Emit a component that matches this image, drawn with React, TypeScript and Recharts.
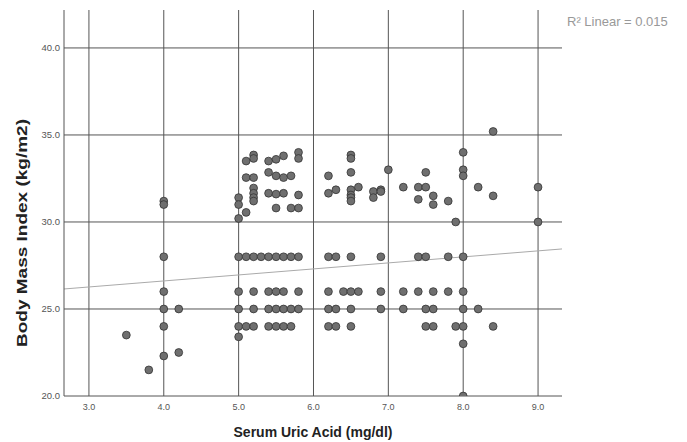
import React from 'react';
import { ScatterChart, Scatter, XAxis, YAxis, ReferenceLine } from 'recharts';

// Serum uric acid values for the BMI bands that form horizontal rows
const row28 = [4.0, 5.0, 5.1, 5.2, 5.3, 5.4, 5.5, 5.6, 5.7, 5.8, 6.2, 6.3, 6.5, 6.9, 7.4, 7.5, 7.8, 8.0];
const row26 = [4.0, 5.0, 5.2, 5.4, 5.5, 5.6, 5.8, 6.2, 6.4, 6.5, 6.6, 6.9, 7.2, 7.4, 7.6, 7.8, 8.0];
const row25 = [4.0, 4.2, 5.0, 5.2, 5.4, 5.5, 5.6, 5.7, 5.8, 6.2, 6.3, 6.5, 6.9, 7.2, 7.5, 7.6, 8.0, 8.2];
const row24 = [4.0, 5.0, 5.1, 5.2, 5.4, 5.5, 5.6, 5.7, 6.2, 6.3, 6.5, 7.5, 7.6, 7.9, 8.0, 8.4];

// Remaining individual observations: [uric acid, BMI]
const lowPoints: [number, number][] = [
  [3.5, 23.5], [3.8, 21.5], [4.0, 22.3], [4.2, 22.5], [5.0, 23.4], [8.0, 23.0], [8.0, 20.0],
];
const highPoints: [number, number][] = [
  [4.0, 31.2], [4.0, 31.0],
  [5.0, 31.4], [5.0, 31.0], [5.0, 30.2],
  [5.1, 33.5], [5.1, 32.55], [5.1, 30.55],
  [5.2, 33.85], [5.2, 33.65], [5.2, 32.55], [5.2, 31.95], [5.2, 31.65], [5.2, 31.4], [5.2, 31.2],
  [5.4, 33.5], [5.4, 32.85], [5.4, 31.65],
  [5.5, 33.6], [5.5, 32.65], [5.5, 31.6], [5.5, 30.8],
  [5.6, 33.8], [5.6, 32.55], [5.6, 31.65],
  [5.7, 32.65], [5.7, 30.8],
  [5.8, 34.0], [5.8, 33.65], [5.8, 31.55], [5.8, 30.8],
  [6.2, 32.65], [6.2, 31.65],
  [6.3, 31.85],
  [6.5, 33.85], [6.5, 33.65], [6.5, 32.85], [6.5, 31.85], [6.5, 31.55], [6.5, 31.4], [6.5, 31.2],
  [6.6, 32.0],
  [6.8, 31.75], [6.8, 31.4],
  [6.9, 31.85], [6.9, 31.75],
  [7.0, 33.0],
  [7.2, 32.0],
  [7.4, 32.0], [7.4, 31.3],
  [7.5, 32.85], [7.5, 32.0],
  [7.6, 31.5], [7.6, 31.0],
  [7.8, 31.2],
  [7.9, 30.0],
  [8.0, 34.0], [8.0, 33.0], [8.0, 32.65],
  [8.2, 32.0],
  [8.4, 35.2], [8.4, 31.5],
  [9.0, 32.0], [9.0, 30.0],
];

const xTicks = [3, 4, 5, 6, 7, 8, 9];
const yTicks = [20, 25, 30, 35, 40];
const xDomain: [number, number] = [2.667, 9.32];
const yDomain: [number, number] = [20, 42.18];

// Fitted linear regression line endpoints
const fitLine = [
  { x: 2.667, y: 26.15 },
  { x: 9.32, y: 28.45 },
];
const fitLabel = 'R² Linear = 0.015';

const points = [
  ...row28.map((x) => ({ x, y: 28 })),
  ...row26.map((x) => ({ x, y: 26 })),
  ...row25.map((x) => ({ x, y: 25 })),
  ...row24.map((x) => ({ x, y: 24 })),
  ...lowPoints.map(([x, y]) => ({ x, y })),
  ...highPoints.map(([x, y]) => ({ x, y })),
];

const FONT = '"Liberation Sans", Arial, sans-serif';
const GRID = '#555';

const Dot = (props: any) => (
  <circle cx={props.cx} cy={props.cy} r={3.9} fill="#6f6f6f" stroke="#333" strokeWidth={0.8} />
);

const XTick = (props: any) => (
  <text x={props.x} y={props.y + 14} textAnchor="middle" fontSize={9} fill="#555" fontFamily={FONT}>
    {Number(props.payload.value).toFixed(1)}
  </text>
);

const YTick = (props: any) => (
  <text x={props.x} y={props.y} dy="0.35em" textAnchor="end" fontSize={9.5} fill="#555" fontFamily={FONT}>
    {Number(props.payload.value).toFixed(1)}
  </text>
);

const XTitle = (props: any) => {
  const vb = props.viewBox || { x: 64, width: 498 };
  return (
    <text x={vb.x + vb.width / 2} y={437} textAnchor="middle" fontSize={14} fontWeight="bold" fill="#222" fontFamily={FONT}>
      Serum Uric Acid (mg/dl)
    </text>
  );
};

const YTitle = () => (
  <text
    x={27}
    y={233}
    transform="rotate(-90, 27, 233)"
    textAnchor="middle"
    fontSize={14}
    fontWeight="bold"
    fill="#222"
    fontFamily={FONT}
    textLength={228}
    lengthAdjust="spacingAndGlyphs"
  >
    Body Mass Index (kg/m2)
  </text>
);

export default function App() {
  return (
    <div style={{ position: 'absolute', left: 0, top: 0, width: 687, height: 442, background: '#fff' }}>
      <ScatterChart width={687} height={442} margin={{ top: 10, right: 125, bottom: 0, left: 0 }}>
        <XAxis
          type="number"
          dataKey="x"
          domain={xDomain}
          ticks={xTicks}
          allowDataOverflow
          height={46}
          tickSize={0}
          tickMargin={0}
          tick={<XTick />}
          axisLine={{ stroke: GRID }}
          label={<XTitle />}
        />
        <YAxis
          type="number"
          dataKey="y"
          domain={yDomain}
          ticks={yTicks}
          allowDataOverflow
          width={64}
          tickSize={0}
          tickMargin={4}
          tick={<YTick />}
          axisLine={{ stroke: GRID }}
          label={<YTitle />}
        />
        {yTicks.slice(1).map((t) => (
          <ReferenceLine key={'h' + t} y={t} stroke={GRID} strokeWidth={1} />
        ))}
        {xTicks.map((t) => (
          <ReferenceLine key={'v' + t} x={t} stroke={GRID} strokeWidth={1} />
        ))}
        <ReferenceLine segment={fitLine} stroke="#aaa" strokeWidth={1} ifOverflow="visible" />
        <Scatter data={points} shape={Dot} isAnimationActive={false} />
      </ScatterChart>
      <div
        style={{
          position: 'absolute',
          left: 567,
          top: 14,
          fontSize: 13,
          lineHeight: '16px',
          color: '#999',
          fontFamily: FONT,
          whiteSpace: 'nowrap',
        }}
      >
        {fitLabel}
      </div>
    </div>
  );
}
